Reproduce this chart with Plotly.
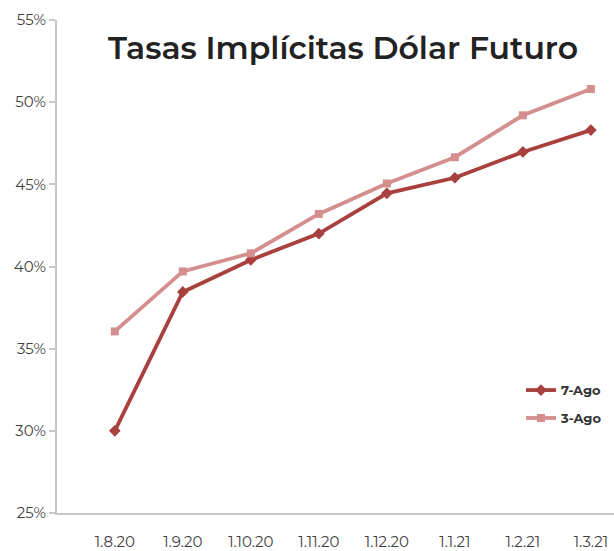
import plotly.graph_objects as go

categories = ["1.8.20", "1.9.20", "1.10.20", "1.11.20", "1.12.20", "1.1.21", "1.2.21", "1.3.21"]
ago7 = [30.0, 38.45, 40.4, 42.0, 44.45, 45.4, 46.97, 48.3]
ago3 = [36.05, 39.7, 40.8, 43.2, 45.05, 46.65, 49.2, 50.8]
y_ticks = [25, 30, 35, 40, 45, 50, 55]

FONT = "Montserrat, 'Open Sans', sans-serif"
C7 = "#A8403E"
C3 = "#D48E8D"

fig = go.Figure()
fig.add_trace(go.Scatter(
    x=list(range(len(categories))), y=ago7, name="7-Ago", mode="lines+markers",
    legendgroup="a",
    line=dict(color=C7, width=3.8),
    marker=dict(symbol="diamond", size=9, color=C7),
))
fig.add_trace(go.Scatter(
    x=list(range(len(categories))), y=ago3, name="3-Ago", mode="lines+markers",
    legendgroup="b",
    line=dict(color=C3, width=3.8),
    marker=dict(symbol="square", size=8, color=C3),
))

fig.update_layout(
    width=614, height=551,
    margin=dict(l=57, r=0, t=20, b=34),
    paper_bgcolor="white", plot_bgcolor="white",
    font=dict(family=FONT, color="#404040", size=15),
    showlegend=True,
    legend=dict(x=(521 - 57) / 557, y=(517 - 378) / 497, xanchor="left", yanchor="top",
                traceorder="grouped", tracegroupgap=8,
                font=dict(size=13, color="#333333", family=FONT, weight="bold"),
                bgcolor="rgba(0,0,0,0)"),
    annotations=[dict(text="Tasas Implícitas Dólar Futuro",
                      x=(343 - 57) / 557, y=(517 - 48) / 497,
                      xref="paper", yref="paper", xanchor="center", yanchor="middle",
                      showarrow=False,
                      font=dict(size=31.5, color="#222222", family=FONT, weight=600))],
)

fig.update_xaxes(
    range=[-0.85, 7.34], tickvals=list(range(len(categories))), ticktext=categories,
    showgrid=False, zeroline=False, showline=True, linecolor="#C8C8C8", linewidth=2,
    ticks="", tickfont=dict(size=15, color="#404040"), ticklabelstandoff=14,
)
fig.update_yaxes(
    range=[25, 55], tickvals=y_ticks, ticktext=[f"{v}%" for v in y_ticks],
    showgrid=False, zeroline=False, showline=True, linecolor="#C8C8C8", linewidth=2,
    ticks="outside", ticklen=6, tickcolor="#C8C8C8", tickwidth=1.5,
    tickfont=dict(size=15, color="#404040"),
)

fig.write_html("out.html", config={"displayModeBar": False},
               post_script="document.body.style.margin='0';document.body.style.overflow='hidden';")
